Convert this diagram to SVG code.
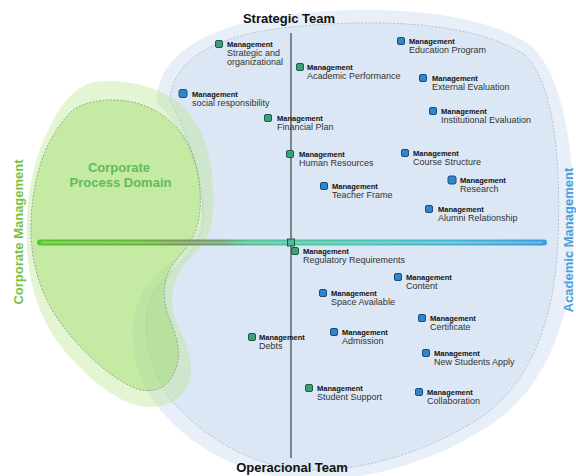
<svg xmlns="http://www.w3.org/2000/svg" width="576" height="476" viewBox="0 0 576 476">
<defs>
<linearGradient id="barGrad" gradientUnits="userSpaceOnUse" x1="40" y1="0" x2="544" y2="0">
<stop offset="0" stop-color="#5cc52c"/>
<stop offset="0.2" stop-color="#67b83a"/>
<stop offset="0.28" stop-color="#7a9c5a"/>
<stop offset="0.36" stop-color="#6e9f70"/>
<stop offset="0.41" stop-color="#52c49a"/>
<stop offset="0.6" stop-color="#4cc8ae"/>
<stop offset="0.82" stop-color="#46b8d6"/>
<stop offset="1" stop-color="#389fe2"/>
</linearGradient>
<style>
.mg{font-family:"Liberation Sans",Arial,sans-serif;font-weight:bold;font-size:7.5px;fill:#111}
.nm{font-family:"Liberation Sans",Arial,sans-serif;font-size:9px;fill:#333}
.title{font-family:"Liberation Sans",Arial,sans-serif;font-weight:bold;font-size:13px;fill:#111;text-anchor:middle}
.side{font-family:"Liberation Sans",Arial,sans-serif;font-weight:bold;font-size:13px;text-anchor:middle}
.sg{fill:#3d9f7c;stroke:#1f5a45;stroke-width:1}
.sb{fill:#2e87c9;stroke:#1a4b7c;stroke-width:1}
</style>
</defs>
<rect width="576" height="476" fill="#ffffff"/>
<g id="academic-domain">
<path d="M157,103 C155,60 200,25 290,14 C380,5 480,10 530,45 C565,75 576,160 574,240 C572,320 545,390 490,425 C440,458 380,478 320,480 C260,482 200,455 165,415 C135,385 122,330 143,292 C160,262 201,250 201,212 C201,165 180,125 157,103 Z" fill="#e9eff8"/>
<path d="M170,100 C172,60 215,35 290,27 C380,18 475,22 525,55 C556,85 561,170 558,240 C555,320 530,385 480,418 C430,450 375,468 320,470 C265,472 215,445 180,410 C150,380 140,330 150,300 C162,270 203,258 203,215 C203,170 184,128 170,100 Z" fill="#dbe7f4" stroke="#aab8c8" stroke-width="0.8" stroke-dasharray="2,1.5"/>
</g>
<g id="corporate-domain">
<path d="M90,83 C110,78 150,82 175,100 C200,118 212,150 213,190 C214,215 212,235 200,248 C188,260 172,275 172,300 C172,325 190,340 191,368 C192,392 175,406 152,407 C125,408 95,385 70,357 C45,330 30,295 27,250 C25,200 32,160 50,127 C60,105 72,90 90,83 Z" fill="#b6e48c" fill-opacity="0.38"/>
<path d="M73,110 C90,98 125,96 150,108 C180,122 197,150 200,190 C202,220 196,238 180,255 C165,272 160,290 168,315 C176,335 184,355 173,375 C165,390 150,394 135,388 C110,378 80,350 60,322 C42,297 31,265 31,230 C31,185 42,140 73,110 Z" fill="#a0dc6e" fill-opacity="0.46" stroke="#8a9a82" stroke-width="0.8" stroke-dasharray="2,1.5"/>
</g>
<g id="axes">
<line x1="291" y1="33" x2="291" y2="458" stroke="#444" stroke-width="1.2"/>
<line x1="40" y1="242.5" x2="544" y2="242.5" stroke="url(#barGrad)" stroke-width="6" stroke-linecap="round"/>
<line x1="42" y1="242.5" x2="542" y2="242.5" stroke="#ffffff" stroke-opacity="0.35" stroke-width="1.6" stroke-linecap="round"/>
<rect x="287.5" y="239" width="7" height="7" fill="#3fae86" fill-opacity="0.6" stroke="#1f5a45" stroke-width="1"/>
</g>
<g id="labels">
<text class="title" x="289" y="23">Strategic Team</text>
<text class="title" x="292" y="472">Operacional Team</text>
<text class="side" fill="#7ac143" transform="translate(23,232) rotate(-90)">Corporate Management</text>
<text class="side" fill="#4a9fd8" transform="translate(573,240) rotate(-90)">Academic Management</text>
<text font-family="Liberation Sans, Arial, sans-serif" font-weight="bold" font-size="13" fill="#63ba5a" text-anchor="middle"><tspan x="119" y="172">Corporate</tspan><tspan x="120.5" y="187">Process Domain</tspan></text>
</g>
<g id="node-strategic"><rect class="sg" x="215.5" y="40.5" width="7" height="7" rx="1.5"/><text class="mg" x="227" y="47">Management</text><text class="nm" x="227" y="56">Strategic and</text><text class="nm" x="227" y="65">organizational</text></g>
<g id="node-academic-performance"><rect class="sg" x="296.5" y="63.5" width="7" height="7" rx="1.5"/><text class="mg" x="307" y="70">Management</text><text class="nm" x="307" y="79">Academic Performance</text></g>
<g id="node-education-program"><rect class="sb" x="397.5" y="37.5" width="7" height="7" rx="1.5"/><text class="mg" x="409" y="44">Management</text><text class="nm" x="409" y="53">Education Program</text></g>
<g id="node-external-evaluation"><rect class="sb" x="419.5" y="74.5" width="7" height="7" rx="1.5"/><text class="mg" x="432" y="80.5">Management</text><text class="nm" x="432" y="90">External Evaluation</text></g>
<g id="node-institutional-evaluation"><rect class="sb" x="429.5" y="107.5" width="7" height="7" rx="1.5"/><text class="mg" x="441" y="114">Management</text><text class="nm" x="441" y="123">Institutional Evaluation</text></g>
<g id="node-social-responsibility"><rect class="sb" x="179" y="89.5" width="8" height="8" rx="2"/><text class="mg" x="192" y="97">Management</text><text class="nm" x="192" y="106">social responsibility</text></g>
<g id="node-financial-plan"><rect class="sg" x="264.5" y="114.5" width="7" height="7" rx="1.5"/><text class="mg" x="277" y="121">Management</text><text class="nm" x="277" y="130">Financial Plan</text></g>
<g id="node-human-resources"><rect class="sg" x="286.5" y="150.5" width="7" height="7" rx="1.5"/><text class="mg" x="299" y="157">Management</text><text class="nm" x="299" y="166">Human Resources</text></g>
<g id="node-course-structure"><rect class="sb" x="401.5" y="149.5" width="7" height="7" rx="1.5"/><text class="mg" x="413" y="155.5">Management</text><text class="nm" x="413" y="164.5">Course Structure</text></g>
<g id="node-teacher-frame"><rect class="sb" x="320.5" y="182.5" width="7" height="7" rx="1.5"/><text class="mg" x="332" y="188.5">Management</text><text class="nm" x="332" y="197.5">Teacher Frame</text></g>
<g id="node-research"><rect class="sb" x="448" y="176" width="8" height="8" rx="2"/><text class="mg" x="460" y="183">Management</text><text class="nm" x="460" y="191.5">Research</text></g>
<g id="node-alumni-relationship"><rect class="sb" x="425.5" y="205.5" width="7" height="7" rx="1.5"/><text class="mg" x="438" y="211.5">Management</text><text class="nm" x="438" y="220.5">Alumni Relationship</text></g>
<g id="node-regulatory-requirements"><rect class="sg" x="291.5" y="247.5" width="7" height="7" rx="1.5"/><text class="mg" x="303" y="253.5">Management</text><text class="nm" x="303" y="263">Regulatory Requirements</text></g>
<g id="node-content"><rect class="sb" x="394.5" y="273.5" width="7" height="7" rx="1.5"/><text class="mg" x="406" y="279.5">Management</text><text class="nm" x="406" y="288.5">Content</text></g>
<g id="node-space-available"><rect class="sb" x="319.5" y="289.5" width="7" height="7" rx="1.5"/><text class="mg" x="331" y="295.5">Management</text><text class="nm" x="331" y="304.5">Space Available</text></g>
<g id="node-certificate"><rect class="sb" x="418.5" y="314.5" width="7" height="7" rx="1.5"/><text class="mg" x="430" y="320.5">Management</text><text class="nm" x="430" y="329.5">Certificate</text></g>
<g id="node-admission"><rect class="sb" x="330.5" y="328.5" width="7" height="7" rx="1.5"/><text class="mg" x="342" y="335">Management</text><text class="nm" x="342" y="344">Admission</text></g>
<g id="node-debts"><rect class="sg" x="248.5" y="333.5" width="7" height="7" rx="1.5"/><text class="mg" x="259" y="340">Management</text><text class="nm" x="259" y="349">Debts</text></g>
<g id="node-new-students-apply"><rect class="sb" x="422.5" y="349.5" width="7" height="7" rx="1.5"/><text class="mg" x="434" y="356">Management</text><text class="nm" x="434" y="364.5">New Students Apply</text></g>
<g id="node-student-support"><rect class="sg" x="305.5" y="384.5" width="7" height="7" rx="1.5"/><text class="mg" x="317" y="390.5">Management</text><text class="nm" x="317" y="399.5">Student Support</text></g>
<g id="node-collaboration"><rect class="sb" x="415.5" y="388.5" width="7" height="7" rx="1.5"/><text class="mg" x="427" y="394.5">Management</text><text class="nm" x="427" y="403.5">Collaboration</text></g>
</svg>
